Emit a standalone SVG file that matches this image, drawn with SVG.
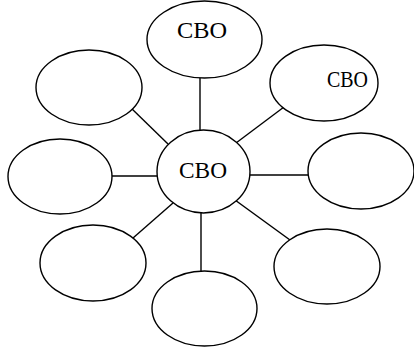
<svg xmlns="http://www.w3.org/2000/svg" width="414" height="350" viewBox="0 0 414 350">
<style>
.n{fill:#fff;stroke:#000;stroke-width:1.4}
.c{stroke:#000;stroke-width:1.4;fill:none}
.t{font-family:"Liberation Serif","Times New Roman",serif;font-size:23px;fill:#000}
</style>
<rect width="414" height="350" fill="#fff"/>
<g id="connectors">
<line class="c" x1="200" y1="78" x2="200" y2="131"/>
<line class="c" x1="284" y1="107" x2="236" y2="143"/>
<line class="c" x1="130" y1="107" x2="168" y2="144"/>
<line class="c" x1="109" y1="176" x2="158" y2="176"/>
<line class="c" x1="247" y1="175" x2="308" y2="175"/>
<line class="c" x1="133" y1="238" x2="173" y2="203"/>
<line class="c" x1="290" y1="240" x2="235" y2="200"/>
<line class="c" x1="201" y1="209" x2="201" y2="272"/>
</g>
<g id="top"><ellipse class="n" cx="204.5" cy="39.5" rx="57.5" ry="38.5"/><text class="t" x="177" y="38" textLength="50" lengthAdjust="spacingAndGlyphs">CBO</text></g>
<g id="topright"><ellipse class="n" cx="324" cy="83" rx="54" ry="38"/><text class="t" x="327" y="87" textLength="41" lengthAdjust="spacingAndGlyphs">CBO</text></g>
<g id="center"><ellipse class="n" cx="203.5" cy="171.5" rx="46.5" ry="41.5"/><text class="t" x="179" y="178" textLength="48" lengthAdjust="spacingAndGlyphs">CBO</text></g>
<g id="topleft"><ellipse class="n" cx="89" cy="87.5" rx="53" ry="37.5"/></g>
<g id="left"><ellipse class="n" cx="60" cy="176.5" rx="52" ry="37.5"/></g>
<g id="bottomleft"><ellipse class="n" cx="93" cy="263" rx="53" ry="38"/></g>
<g id="right"><ellipse class="n" cx="361" cy="171" rx="53" ry="38"/></g>
<g id="bottomright"><ellipse class="n" cx="327" cy="266.5" rx="53" ry="37.5"/></g>
<g id="bottom"><ellipse class="n" cx="204.5" cy="308.5" rx="52.5" ry="37.5"/></g>
</svg>
